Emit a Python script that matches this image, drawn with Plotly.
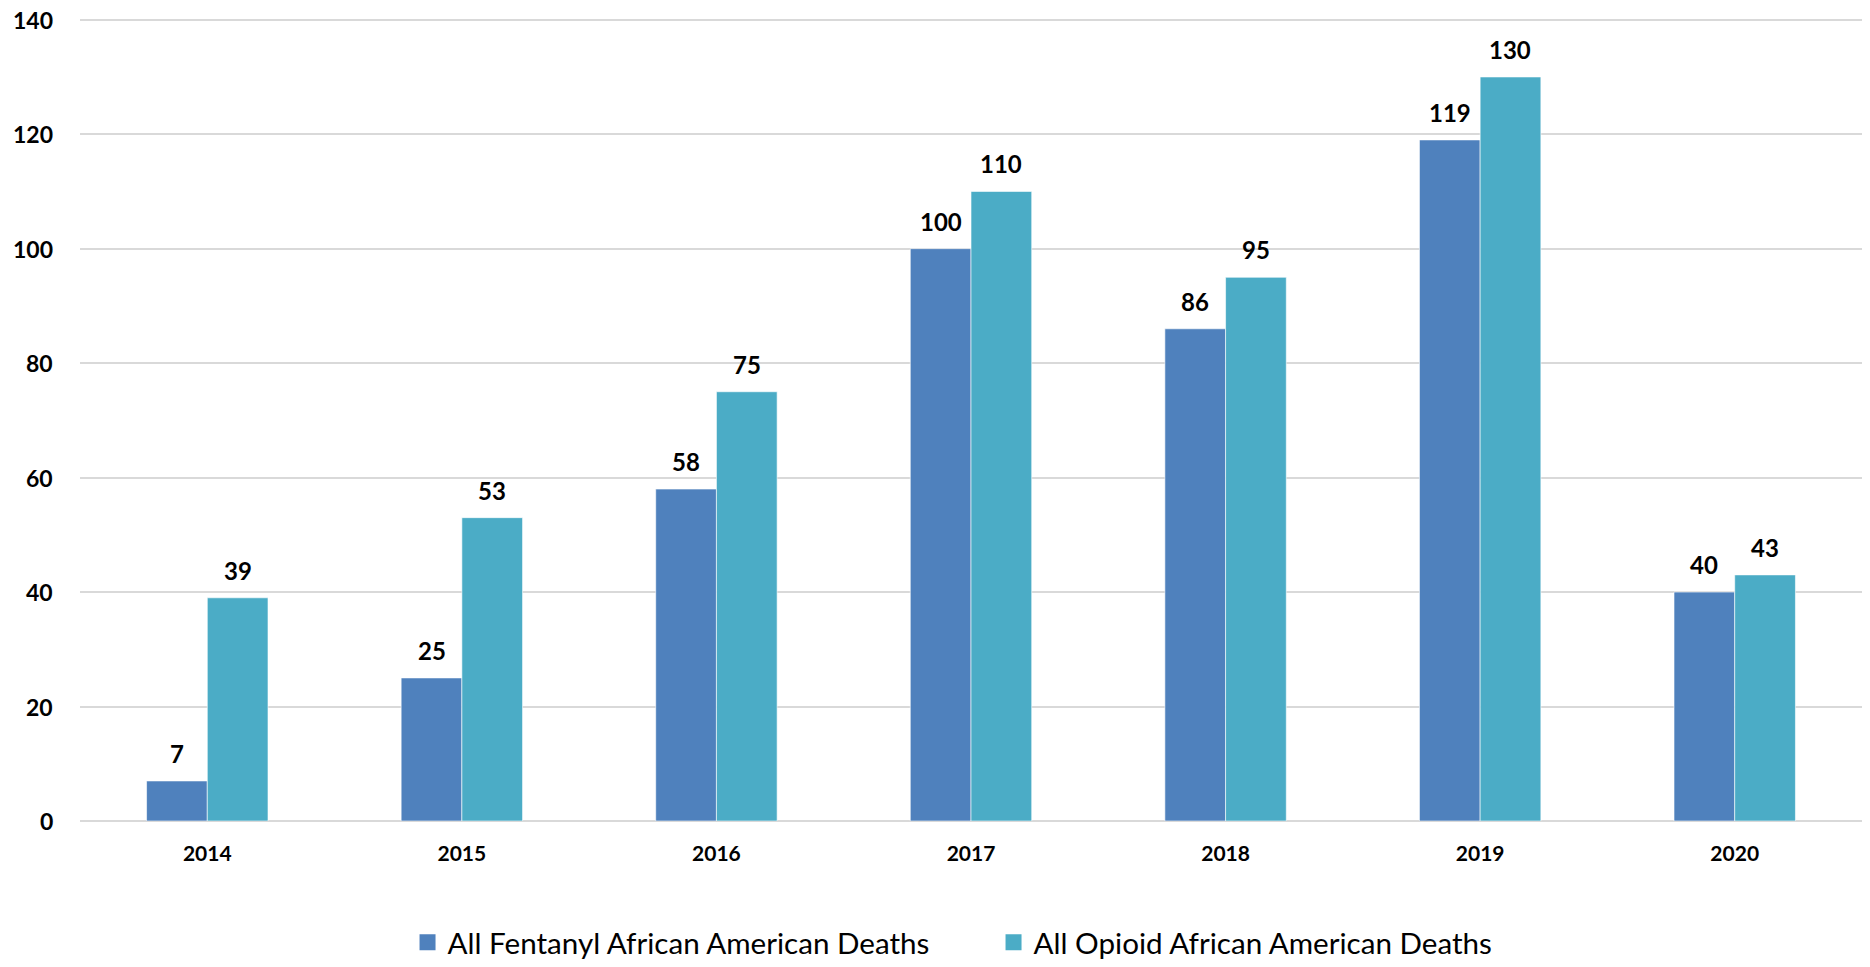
import plotly.graph_objects as go

years = ["2014", "2015", "2016", "2017", "2018", "2019", "2020"]
fentanyl = [7, 25, 58, 100, 86, 119, 40]
opioid = [39, 53, 75, 110, 95, 130, 43]
series_names = ["All Fentanyl African American Deaths", "All Opioid African American Deaths"]
colors = ["#4F81BD", "#4BACC6"]
y_ticks = [0, 20, 40, 60, 80, 100, 120, 140]

FONT = "Lato"

fig = go.Figure()
for name, vals, col in zip(series_names, [fentanyl, opioid], colors):
    fig.add_trace(go.Bar(
        x=years, y=vals, name=name, showlegend=False,
        marker=dict(color=col, line=dict(color="rgba(255,255,255,0.6)", width=1)),
    ))
# legend entries with larger square swatches
for name, col in zip(series_names, colors):
    fig.add_trace(go.Scatter(
        x=[years[0]], y=[None], name=name, mode="markers",
        marker=dict(symbol="square", size=18, color=col),
    ))

# data labels above each bar (x given as category index)
bar_w_px = 60.7
for vals, shift in [(fentanyl, -bar_w_px / 2), (opioid, bar_w_px / 2)]:
    for i, v in enumerate(vals):
        fig.add_annotation(
            x=i, y=v, text=str(v), showarrow=False,
            xshift=shift, yshift=11, yanchor="bottom",
            font=dict(family=FONT, size=24, color="#000000", weight="bold"),
        )

# y tick labels as annotations (so the top label is not dropped at the page edge)
for t in y_ticks:
    fig.add_annotation(
        xref="paper", x=0, y=t, yref="y", text=str(t), showarrow=False,
        xanchor="right", yanchor="middle", xshift=-25,
        font=dict(family=FONT, size=23, color="#000000", weight="bold"),
    )

fig.update_layout(
    width=1854, height=951,
    margin=dict(l=72, r=0, t=6.3, b=138.3, autoexpand=False),
    paper_bgcolor="white", plot_bgcolor="white",
    barmode="group", bargap=0.523, bargroupgap=0,
    font=dict(family=FONT, color="#000000"),
    showlegend=True,
    legend=dict(
        orientation="h", x=0.1838, xanchor="left", y=-0.1827, yanchor="bottom",
        font=dict(family=FONT, size=29.6, color="#000000"),
        itemsizing="trace", traceorder="normal",
        entrywidth=541, entrywidthmode="pixels",
    ),
)
fig.update_xaxes(
    type="category", categoryorder="array", categoryarray=years,
    range=[-0.5, len(years) - 0.5], automargin=False,
    showgrid=False, showline=False, zeroline=False,
    tickfont=dict(family=FONT, size=21, color="#000000", weight="bold"),
    ticks="", ticklabelstandoff=18,
)
fig.update_yaxes(
    range=[0, 141], tickvals=y_ticks, showgrid=True, gridcolor="#D9D9D9", gridwidth=2,
    zeroline=True, zerolinecolor="#D9D9D9", zerolinewidth=2, showline=False,
    automargin=False, showticklabels=False, ticks="",
)

fig.write_html("out.html")
